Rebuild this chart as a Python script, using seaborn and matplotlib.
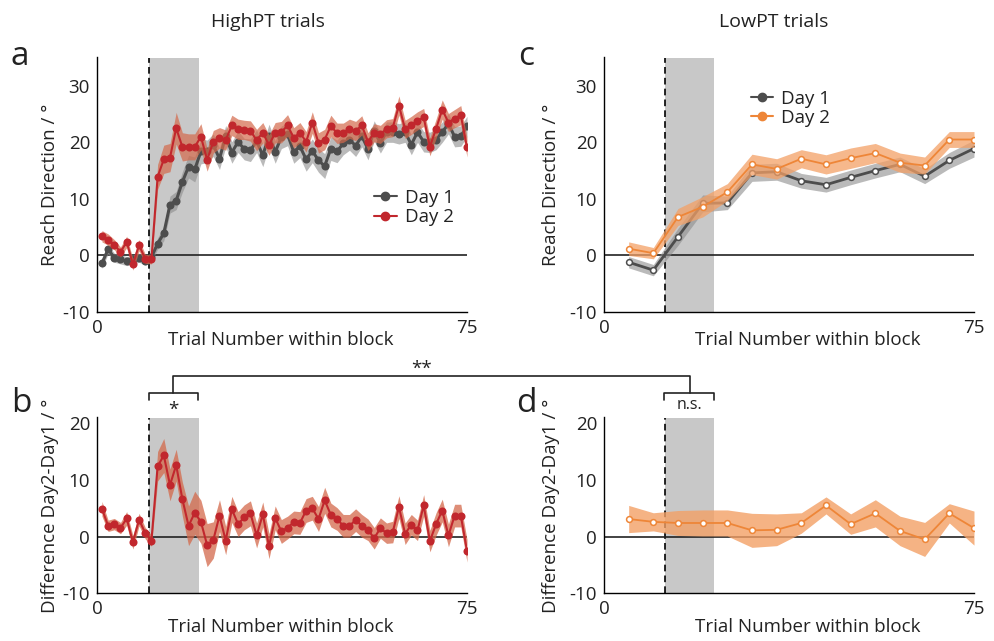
import numpy as np
import pandas as pd
import matplotlib
matplotlib.use("Agg")
import matplotlib.pyplot as plt
import seaborn as sns
from matplotlib.lines import Line2D

sns.set_theme(style="white")
plt.rcParams['font.family'] = ['Open Sans', 'DejaVu Sans']
plt.rcParams['axes.unicode_minus'] = False

# ---------------- data ----------------
high_trials = np.linspace(1, 75, 60)
low_trials = np.arange(5, 76, 5)

high_day1 = [-1.4, 1.1, -0.4, -0.7, -1.0, -0.7, -0.4, -0.9, -0.3, 2.1,
             3.9, 9.0, 9.7, 13.0, 15.7, 15.2, 18.4, 18.4, 19.5, 17.1,
             21.1, 18.2, 20.1, 18.8, 18.6, 20.2, 17.7, 21.2, 18.3, 20.9,
             21.4, 18.3, 19.3, 17.0, 18.5, 16.8, 15.8, 18.9, 18.4, 19.8,
             20.5, 19.4, 21.1, 18.8, 22.0, 19.9, 21.8, 21.8, 21.5, 21.8,
             19.6, 21.8, 20.1, 20.0, 20.5, 21.8, 23.3, 21.0, 21.1, 22.8]
high_day1_sem = [0.9, 0.8, 0.8, 0.8, 0.8, 0.8, 0.8, 0.8, 0.8, 1.0,
                 1.3, 1.5, 1.6, 1.8, 2.0, 2.2, 2.2, 2.0, 2.0, 1.9,
                 1.9, 1.9, 1.9, 1.9, 2.0, 2.0, 2.0, 2.0, 2.0, 2.0,
                 2.0, 2.0, 2.0, 2.1, 2.1, 2.1, 2.2, 2.1, 2.0, 2.0,
                 1.9, 1.9, 1.9, 1.9, 1.8, 1.8, 1.8, 1.8, 1.8, 1.8,
                 1.8, 1.8, 1.8, 1.8, 1.8, 1.8, 1.8, 1.8, 1.8, 1.8]
high_day2 = [3.4, 2.8, 1.9, 0.6, 2.4, -1.6, 1.8, -0.6, -0.7, 13.9,
             17.0, 17.3, 22.5, 19.2, 19.2, 19.2, 21.0, 16.9, 20.1, 20.8,
             20.4, 23.0, 22.3, 22.2, 22.0, 20.4, 21.7, 19.5, 21.7, 21.8,
             23.0, 20.8, 21.7, 20.1, 23.5, 19.9, 20.5, 22.9, 21.6, 21.7,
             22.4, 22.0, 23.0, 20.1, 21.7, 21.4, 22.4, 22.6, 26.5, 22.3,
             23.0, 23.8, 24.4, 19.2, 22.4, 25.8, 23.5, 24.2, 24.8, 19.1]
high_day2_sem = [1.0, 1.0, 0.9, 0.9, 1.0, 1.0, 1.0, 0.8, 0.8, 2.2,
                 2.5, 2.5, 2.8, 2.5, 2.3, 2.3, 2.3, 2.0, 2.0, 1.8,
                 1.8, 1.8, 1.8, 1.7, 1.8, 1.9, 1.8, 1.8, 1.8, 1.9,
                 1.9, 1.8, 1.8, 1.8, 1.9, 1.8, 1.8, 1.9, 1.8, 1.7,
                 1.7, 1.7, 1.7, 1.6, 1.6, 1.6, 1.6, 1.6, 1.7, 1.6,
                 1.6, 1.6, 1.6, 1.6, 1.7, 1.7, 1.6, 1.6, 1.7, 1.7]
high_diff = [4.9, 1.9, 2.2, 1.5, 3.2, -1.0, 3.0, 0.6, -0.7, 12.4,
             14.3, 9.1, 12.6, 6.6, 1.9, 4.2, 2.6, -1.5, -0.6, 3.7,
             -0.7, 4.8, 2.2, 3.4, 4.1, 0.2, 3.9, -1.7, 3.3, 0.9,
             1.6, 2.5, 2.4, 4.6, 5.0, 3.1, 6.4, 3.8, 3.1, 1.9,
             1.9, 2.9, 1.9, 1.2, -0.3, 1.5, 0.6, 0.8, 5.2, 0.5,
             2.1, 1.1, 5.5, -0.8, 2.2, 4.6, 0.2, 3.7, 3.7, -2.5]
high_diff_sem = [1.3, 1.0, 1.0, 1.0, 1.2, 1.2, 1.1, 1.0, 1.0, 2.6,
                 3.0, 2.8, 2.8, 3.0, 3.5, 3.8, 3.8, 3.8, 3.2, 2.8,
                 2.5, 2.3, 2.2, 2.2, 2.2, 2.2, 2.2, 2.2, 2.1, 2.1,
                 2.0, 2.0, 2.0, 2.1, 2.1, 2.2, 2.3, 2.1, 2.0, 2.0,
                 2.0, 2.0, 2.0, 1.9, 1.9, 1.8, 1.8, 1.9, 2.0, 1.9,
                 1.8, 1.8, 1.9, 1.9, 2.0, 2.0, 2.0, 2.0, 2.0, 2.0]

low_day1 = [-1.2, -2.6, 3.3, 9.2, 9.3, 14.6, 14.8, 13.2, 12.5, 13.8, 15.0, 16.1, 14.0, 16.8, 18.9]
low_day1_sem = [1.0, 1.0, 1.5, 1.5, 1.2, 1.5, 1.5, 1.3, 1.3, 1.3, 1.3, 1.3, 1.3, 1.4, 1.5]
low_day2 = [1.2, 0.4, 6.8, 8.6, 11.2, 16.1, 15.3, 17.1, 16.1, 17.2, 18.1, 16.4, 15.9, 20.5, 20.5]
low_day2_sem = [1.2, 1.0, 1.5, 1.8, 1.5, 1.8, 1.8, 1.6, 1.7, 1.8, 1.7, 1.7, 1.5, 1.4, 1.4]
low_diff = [3.1, 2.6, 2.4, 2.4, 2.4, 1.1, 1.2, 2.4, 5.5, 2.2, 4.1, 1.0, -0.5, 4.1, 1.5]
low_diff_sem = [2.4, 1.6, 2.2, 2.3, 2.3, 3.0, 2.8, 1.8, 1.5, 1.8, 2.4, 2.6, 3.0, 1.7, 3.0]

high_onset, high_window = 10.6, 20.6
low_onset, low_window = 12.4, 22.3

# ---------------- styles ----------------
RED = '#C1272D'
RED_BAND = '#D4694B'
GRAY = '#4D4D4D'
GRAY_BAND = '#8C8C8C'
ORANGE = '#EE8638'
ORANGE_BAND = '#F3A066'
SHADE = '#C8C8C8'
FS = 13.5

W, H = 994, 641
fig = plt.figure(figsize=(W / 100, H / 100), dpi=100)


def ax_px(l, t, r, b):
    return fig.add_axes([l / W, 1 - b / H, (r - l) / W, (b - t) / H])


ax_a = ax_px(97, 57.5, 467, 312)
ax_b = ax_px(97, 417.5, 467, 593.3)
ax_c = ax_px(604, 57.5, 974, 312)
ax_d = ax_px(604, 417.5, 974, 593.3)


def style(ax, ylim, yticks):
    ax.set_xlim(0, 75)
    ax.set_ylim(*ylim)
    ax.set_xticks([0, 75])
    ax.set_yticks(yticks)
    for s in ['top', 'right']:
        ax.spines[s].set_visible(False)
    for s in ['left', 'bottom']:
        ax.spines[s].set_color('black')
        ax.spines[s].set_linewidth(1.0)
    ax.tick_params(direction='in', length=4, width=1, labelsize=FS,
                   color='black', labelcolor='#222222', pad=5)
    ax.grid(False)


def background(ax, onset, window):
    ax.axvspan(onset, window, color=SHADE, lw=0, zorder=0)
    ax.axvline(onset, color='black', lw=1.2, ls=(0, (4, 2.5)), zorder=1)
    ax.axhline(0, color='#222222', lw=1.2, zorder=1)


def series(ax, x, y, sem, color, band, alpha, lw, ms, mfc, mec, mew, z):
    y = np.asarray(y)
    sem = np.asarray(sem)
    ax.fill_between(x, y - sem, y + sem, color=band, alpha=alpha, lw=0, zorder=z)
    df = pd.DataFrame({'trial': x, 'value': y})
    sns.lineplot(data=df, x='trial', y='value', ax=ax, color=color, lw=lw,
                 marker='o', markersize=ms, markerfacecolor=mfc,
                 markeredgecolor=mec, markeredgewidth=mew, errorbar=None,
                 zorder=z + 0.5)


# panel a
background(ax_a, high_onset, high_window)
series(ax_a, high_trials, high_day1, high_day1_sem, GRAY, GRAY_BAND, 0.6, 2.2, 5.8, GRAY, GRAY, 0, 2)
series(ax_a, high_trials, high_day2, high_day2_sem, RED, RED_BAND, 0.7, 1.5, 5.8, RED, RED, 0, 3)
style(ax_a, (-10, 35), [-10, 0, 10, 20, 30])

# panel b
background(ax_b, high_onset, high_window)
series(ax_b, high_trials, high_diff, high_diff_sem, RED, RED_BAND, 0.75, 1.5, 5.8, RED, RED, 0, 3)
style(ax_b, (-10, 21), [-10, 0, 10, 20])

# panel c
background(ax_c, low_onset, low_window)
series(ax_c, low_trials, low_day1, low_day1_sem, GRAY, GRAY_BAND, 0.6, 2.0, 4.2, 'white', GRAY, 1.1, 2)
series(ax_c, low_trials, low_day2, low_day2_sem, ORANGE, ORANGE_BAND, 0.75, 1.3, 4.2, 'white', ORANGE, 1.1, 3)
style(ax_c, (-10, 35), [-10, 0, 10, 20, 30])

# panel d
background(ax_d, low_onset, low_window)
series(ax_d, low_trials, low_diff, low_diff_sem, ORANGE, ORANGE_BAND, 0.8, 1.3, 4.2, 'white', ORANGE, 1.1, 3)
style(ax_d, (-10, 21), [-10, 0, 10, 20])

# axis labels
for ax, lab, xoff in [(ax_a, 'Reach Direction / °', -0.103),
                      (ax_c, 'Reach Direction / °', -0.118),
                      (ax_b, 'Difference Day2-Day1 / °', -0.103),
                      (ax_d, 'Difference Day2-Day1 / °', -0.118)]:
    ax.set_ylabel(lab, fontsize=FS, color='#222222')
    ax.yaxis.set_label_coords(xoff, 0.5)

for ax, xc, yb in [(ax_a, 0.497, -0.13), (ax_c, 0.55, -0.13),
                   (ax_b, 0.497, -0.22), (ax_d, 0.55, -0.22)]:
    ax.set_xlabel('Trial Number within block', fontsize=FS, color='#222222')
    ax.xaxis.set_label_coords(xc, yb)
    ax.xaxis.label.set_va('baseline')

# legends
def legend(ax, colors, left, top):
    handles = [Line2D([0], [0], color=c, lw=1.5, marker='o', markersize=6,
                      markerfacecolor=c, markeredgecolor=c) for c in colors]
    ax.legend(handles, ['Day 1', 'Day 2'], frameon=False, fontsize=FS,
              loc='upper left', bbox_to_anchor=(left / W, 1 - top / H),
              bbox_transform=fig.transFigure, borderaxespad=0, borderpad=0,
              handlelength=1.2, handletextpad=0.45, labelspacing=0.08,
              labelcolor='#222222')

legend(ax_a, [GRAY, RED], 374, 189)
legend(ax_c, [GRAY, ORANGE], 750.5, 89.5)

# titles and panel letters
fig.text(268 / W, 1 - 21.7 / H, 'HighPT trials', ha='center', va='center', fontsize=14, color='#222222')
fig.text(774 / W, 1 - 21.7 / H, 'LowPT trials', ha='center', va='center', fontsize=14, color='#222222')
for letter, x, y in [('a', 11, 65), ('b', 11, 412), ('c', 518, 65), ('d', 516, 412)]:
    fig.text(x / W, 1 - y / H, letter, ha='left', va='baseline', fontsize=24, color='#222222')

# significance brackets (figure pixel coordinates)
def fx(p):
    return p / W


def fy(p):
    return 1 - p / H


br_kw = dict(color='#222222', lw=1.2, transform=fig.transFigure)
# small bracket over HighPT window
fig.add_artist(Line2D([fx(149.3), fx(149.3), fx(198.3), fx(198.3)],
                      [fy(399.5), fy(393.3), fy(393.3), fy(399.5)], **br_kw))
# small bracket over LowPT window
fig.add_artist(Line2D([fx(664.3), fx(664.3), fx(714), fx(714)],
                      [fy(399.5), fy(393.3), fy(393.3), fy(399.5)], **br_kw))
# connecting bracket
fig.add_artist(Line2D([fx(172.7), fx(172.7), fx(690), fx(690)],
                      [fy(393.3), fy(375.5), fy(375.5), fy(393.3)], **br_kw))
fig.text(fx(173.5), fy(410), '*', ha='center', va='center', fontsize=FS, color='#222222')
fig.text(fx(689.5), fy(405), 'n.s.', ha='center', va='center', fontsize=11.5, color='#222222')
fig.text(fx(422), fy(369), '**', ha='center', va='center', fontsize=FS, color='#222222')

fig.savefig('out.png', dpi=100)
